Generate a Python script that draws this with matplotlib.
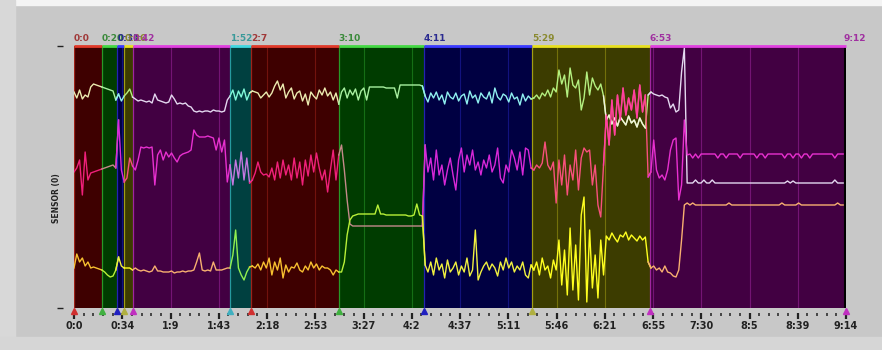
import numpy as np
import matplotlib
matplotlib.use("Agg")
import matplotlib.pyplot as plt
from matplotlib.patches import Rectangle
from matplotlib.ticker import MultipleLocator

# one sample every 2 s, 0:00 .. 9:12
t = np.arange(0, 553, 2)

sensor_top = [
    216, 210, 218, 209, 213, 211, 221, 224, 223, 222,
    221, 220, 219, 218, 217, 208, 214, 207, 212, 215,
    219, 211, 209, 207, 208, 207, 206, 207, 205, 214,
    208, 207, 206, 205, 206, 213, 209, 204, 205, 204,
    205, 202, 201, 197, 196, 197, 196, 197, 197, 196,
    198, 197, 197, 196, 197, 208, 212, 218, 208, 217,
    211, 219, 208, 215, 217, 216, 215, 210, 213, 216,
    211, 215, 222, 227, 218, 224, 210, 216, 220, 209,
    215, 217, 207, 214, 203, 216, 212, 209, 218, 213,
    220, 212, 216, 208, 215, 204, 216, 220, 210, 218,
    213, 219, 208, 217, 220, 208, 221, 221, 221, 221,
    221, 221, 220, 220, 220, 220, 210, 223, 223, 223,
    223, 223, 223, 223, 223, 222, 212, 206, 215, 210,
    216, 208, 213, 204, 216, 211, 209, 215, 207, 212,
    214, 204, 217, 210, 213, 205, 215, 211, 209, 216,
    205, 220, 211, 208, 214, 212, 206, 215, 209, 211,
    203, 214, 207, 212, 209, 210, 213, 209, 215, 212,
    218, 211, 220, 216, 238, 224, 233, 211, 240, 223,
    220, 228, 198, 210, 236, 213, 230, 222, 218, 224,
    212, 188, 193, 184, 190, 182, 191, 187, 183, 192,
    185, 188, 181, 190, 184, 180, 213, 216, 214, 213,
    212, 213, 211, 210, 200, 204, 196, 198, 236, 260,
    125, 125, 125, 128, 125, 125, 128, 125, 125, 128,
    125, 125, 125, 125, 125, 125, 125, 125, 125, 125,
    125, 125, 125, 125, 125, 125, 125, 125, 125, 125,
    125, 125, 125, 125, 125, 125, 127, 125, 127, 125,
    125, 125, 125, 125, 125, 125, 125, 125, 125, 125,
    125, 125, 125, 128, 125, 125, 125,
]

sensor_mid = [
    136, 140, 148, 113, 156, 128, 135, 136, 137, 138,
    139, 140, 141, 142, 143, 140, 188, 138, 126, 130,
    150, 142, 138, 148, 161, 160, 161, 160, 161, 123,
    153, 158, 148, 156, 151, 155, 150, 146, 152, 154,
    155, 156, 158, 178, 173, 171, 171, 171, 172, 171,
    170, 158, 170, 156, 168, 126, 143, 123, 148, 130,
    156, 128, 150, 125, 128, 135, 146, 136, 133, 134,
    131, 140, 128, 146, 130, 148, 133, 143, 128, 150,
    130, 146, 123, 148, 132, 153, 136, 155, 140, 128,
    138, 116, 138, 158, 128, 153, 163, 138, 108, 84,
    82, 82, 82, 82, 82, 82, 82, 82, 82, 82,
    82, 82, 82, 82, 82, 82, 82, 82, 82, 82,
    82, 82, 82, 82, 82, 82, 163, 136, 150, 128,
    158, 133, 143, 123, 138, 150, 133, 118, 148, 160,
    136, 153, 143, 158, 138, 146, 133, 148, 140, 153,
    136, 143, 160, 130, 125, 143, 136, 158, 150, 138,
    156, 133, 160, 158, 140, 138, 143, 140, 145, 166,
    143, 138, 146, 105, 148, 123, 153, 113, 143, 128,
    158, 118, 150, 160, 156, 158, 123, 143, 103, 91,
    143, 193, 163, 208, 173, 213, 188, 220, 193, 210,
    198, 218, 190, 223, 196, 213, 131, 136, 168, 138,
    130, 133, 128, 138, 158, 168, 170, 108, 123, 188,
    153, 154, 150, 154, 150, 154, 154, 154, 154, 154,
    154, 150, 154, 154, 150, 154, 154, 154, 154, 150,
    154, 154, 154, 154, 154, 150, 154, 154, 150, 154,
    154, 154, 154, 154, 154, 150, 154, 154, 150, 154,
    154, 150, 154, 154, 150, 154, 154, 154, 154, 154,
    154, 154, 154, 150, 154, 154, 154,
]

sensor_low = [
    40, 54, 46, 50, 42, 46, 40, 41, 40, 39,
    38, 36, 33, 31, 32, 38, 51, 42, 40, 40,
    40, 38, 40, 38, 37, 38, 37, 36, 37, 42,
    37, 37, 36, 36, 36, 37, 35, 36, 36, 37,
    36, 37, 37, 38, 46, 55, 38, 37, 38, 37,
    46, 38, 38, 38, 39, 40, 40, 53, 78, 40,
    33, 28, 36, 41, 42, 40, 44, 38, 46, 40,
    50, 33, 46, 38, 50, 30, 43, 36, 41, 40,
    45, 38, 36, 42, 38, 46, 40, 44, 38, 42,
    40, 40, 38, 33, 38, 36, 36, 46, 73, 88,
    92, 93, 94, 94, 94, 94, 94, 94, 94, 103,
    94, 94, 93, 93, 93, 93, 93, 93, 93, 93,
    92, 92, 93, 104, 93, 92, 43, 36, 46, 33,
    50, 38, 44, 30, 48, 36, 40, 46, 33, 42,
    36, 50, 32, 38, 78, 28, 36, 42, 46, 38,
    44, 40, 32, 46, 38, 50, 40, 46, 36, 42,
    38, 46, 33, 30, 43, 38, 46, 33, 50, 38,
    42, 30, 48, 38, 68, 23, 58, 13, 80, 18,
    63, 8, 93, 111, 6, 78, 20, 53, 10, 68,
    33, 72, 68, 75, 70, 66, 73, 71, 76, 68,
    73, 70, 67, 72, 68, 71, 46, 40, 42, 38,
    40, 36, 42, 36, 35, 32, 31, 38, 68, 103,
    105, 103, 105, 103, 103, 103, 103, 103, 103, 103,
    103, 103, 103, 103, 103, 105, 103, 103, 103, 103,
    103, 103, 103, 103, 103, 103, 103, 103, 103, 103,
    103, 103, 103, 103, 105, 103, 103, 103, 103, 103,
    105, 103, 103, 103, 103, 103, 103, 103, 103, 103,
    103, 103, 103, 103, 105, 103, 103,
]

# event segments (start in seconds)
seg_start = [0, 20, 31, 36, 42, 112, 127, 190, 251, 329, 413]
seg_kind = ["red", "green", "blue", "yellow", "magenta", "cyan",
            "red", "green", "blue", "yellow", "magenta"]
seg_label = ["0:0", "0:20", "0:31", "0:36", "0:42", "1:52",
             "2:7", "3:10", "4:11", "5:29", "6:53"]
end_time = 552
end_label = "9:12"

# stretch where the top and middle sensors swap places
swap_start, swap_end = 380, 410

t_max = 554
tick_labels = ["0:0", "0:34", "1:9", "1:43", "2:18", "2:53", "3:27", "4:2", "4:37",
               "5:11", "5:46", "6:21", "6:55", "7:30", "8:5", "8:39", "9:14"]

bg = {"red": "#3e0000", "green": "#003c00", "blue": "#000042", "yellow": "#3c3c00",
      "magenta": "#420042", "cyan": "#004040"}
edge = {"red": "#e03a2a", "green": "#44d844", "blue": "#3a3aff", "yellow": "#e8e020",
        "magenta": "#e040e0", "cyan": "#40d8e0"}
lab = {"red": "#a03838", "green": "#3a8a3a", "blue": "#2a2a90", "yellow": "#8a8a30",
       "magenta": "#a030a0", "cyan": "#3a9a9a"}
mk = {"red": "#d03030", "green": "#40b040", "blue": "#2020c0", "yellow": "#b0b040",
      "magenta": "#c030c0", "cyan": "#40b0c0"}
top_col = {"red": "#ecebb0", "green": "#a8f0a0", "blue": "#90f0f0", "yellow": "#b4f080",
           "magenta": "#e4d8f0", "cyan": "#80f8d8"}
mid_col = {"red": "#f0207a", "green": "#c48a8a", "blue": "#d828d8", "yellow": "#f8507c",
           "magenta": "#e830d0", "cyan": "#c478e0"}
low_col = {"red": "#f8c030", "green": "#b8f038", "blue": "#f0f040", "yellow": "#ffff20",
           "magenta": "#f8b070", "cyan": "#90f050"}

fig = plt.figure(figsize=(8.82, 3.5), dpi=100, facecolor="#c8c8c8")
fig.patches.append(Rectangle((0, 345 / 350), 1, 5 / 350, transform=fig.transFigure,
                             color="#f4f4f4", zorder=-1))
fig.patches.append(Rectangle((0, 0), 15 / 882, 1, transform=fig.transFigure,
                             color="#d8d8d8", zorder=-1))
fig.patches.append(Rectangle((0, 0), 1, 13 / 350, transform=fig.transFigure,
                             color="#d6d6d6", zorder=-1))

ax = fig.add_axes([74 / 882, 42 / 350, 772 / 882, 262 / 350])
ax.set_xlim(0, t_max)
ax.set_ylim(0, 262)
xt = ax.get_xaxis_transform()

bounds = seg_start + [t_max]
major = np.linspace(0, t_max, len(tick_labels))
vals = [np.array(sensor_top), np.array(sensor_mid), np.array(sensor_low)]
cols = [top_col, mid_col, low_col]

for i, kind in enumerate(seg_kind):
    a, b = bounds[i], bounds[i + 1]
    ax.axvspan(a, b, color=bg[kind], lw=0, zorder=0)
    ax.axvline(a, color=edge[kind], alpha=0.6, lw=0.9, zorder=1)
    for p in major:
        if a < p < b:
            ax.axvline(p, color=edge[kind], alpha=0.32, lw=0.8, zorder=1)
    i0 = max(np.searchsorted(t, a, side="right") - 1, 0)
    i1 = np.searchsorted(t, b, side="left")
    for v, c in zip(vals, cols):
        ax.plot(t[i0:i1 + 1], v[i0:i1 + 1], color=c[kind], lw=1.0, zorder=3)
    ax.plot([a, b], [1, 1], transform=xt, color=edge[kind], lw=2, clip_on=False,
            zorder=5, solid_capstyle="butt")
    ax.text(a, 1.012, seg_label[i], transform=xt, color=lab[kind], fontsize=6.5,
            fontweight="bold", ha="left", va="bottom")
    ax.plot(a, -0.012, marker="^", ms=5, color=mk[kind], transform=xt, clip_on=False,
            ls="none", zorder=6)

# recolour the swapped stretch: top sensor goes whitish, middle goes hot pink
s0 = np.searchsorted(t, swap_start)
s1 = np.searchsorted(t, swap_end)
ax.plot(t[s0:s1 + 1], vals[0][s0:s1 + 1], color="#f2f2dc", lw=1.0, zorder=3)
ax.plot(t[s0:s1 + 1], vals[1][s0:s1 + 1], color="#ff3fa0", lw=1.0, zorder=3)

ax.text(end_time, 1.012, end_label, transform=xt, color=lab["magenta"], fontsize=6.5,
        fontweight="bold", ha="left", va="bottom")
ax.plot(t_max, -0.012, marker="^", ms=5, color=mk["magenta"], transform=xt,
        clip_on=False, ls="none", zorder=6)
ax.axvline(t_max - 0.4, color="black", lw=1.5, zorder=4)

for s in ax.spines.values():
    s.set_visible(False)
ax.spines["bottom"].set_position(("outward", 3.6))
ax.spines["left"].set_position(("outward", 8))

ax.set_xticks(major)
ax.set_xticklabels(tick_labels)
ax.xaxis.set_minor_locator(MultipleLocator(t_max / 80))
ax.tick_params(axis="x", which="major", direction="out", length=4, width=1.6,
               pad=2, labelsize=7, colors="#222222")
ax.tick_params(axis="x", which="minor", direction="out", length=2.2, width=1.1,
               colors="#222222")
for lbl in ax.get_xticklabels():
    lbl.set_fontweight("bold")

ax.set_yticks([0, 262])
ax.set_yticklabels(["", ""])
ax.tick_params(axis="y", direction="out", length=4.5, width=1, colors="#222222")

fig.text(56 / 882, 1 - 198 / 350, "SENSOR (0)", rotation=90, fontsize=5.5,
         fontweight="bold", color="#222222", ha="center", va="center")

fig.savefig("out.png", dpi=100, facecolor=fig.get_facecolor())
